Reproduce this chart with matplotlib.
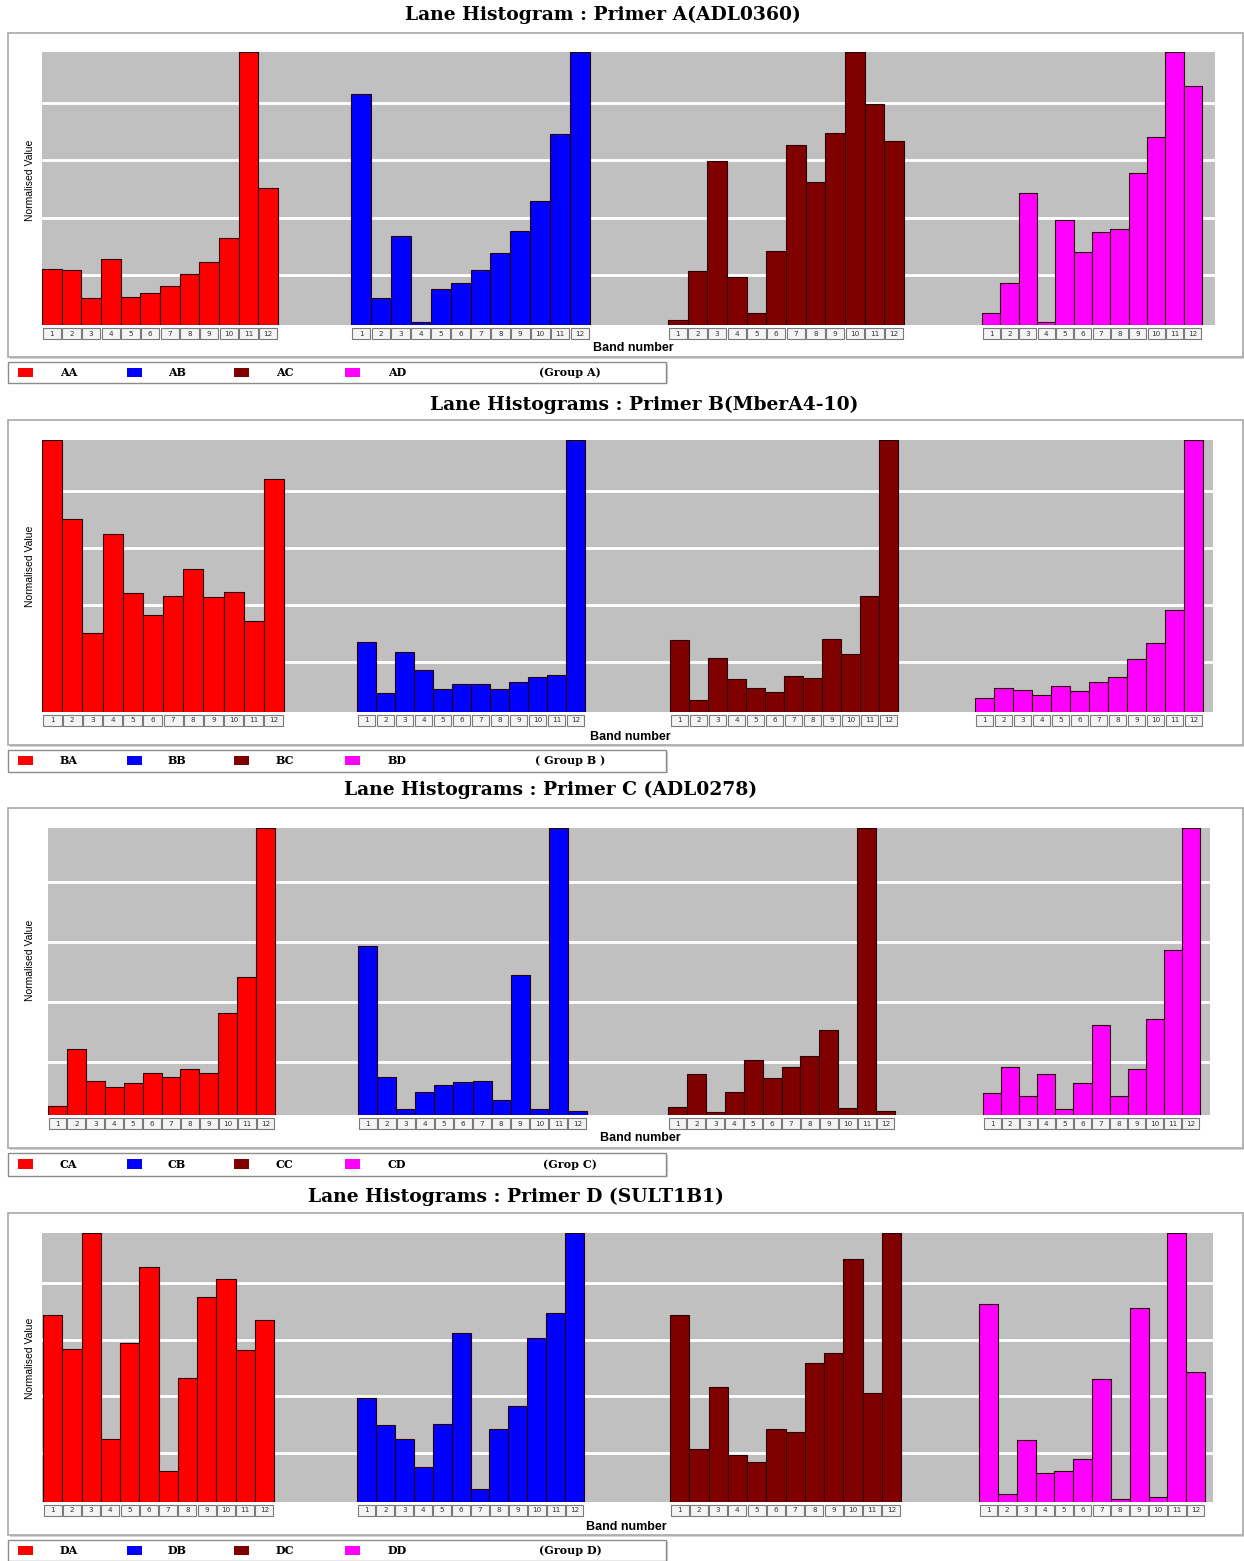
import matplotlib
matplotlib.use("Agg")
import matplotlib.pyplot as plt
from matplotlib.patches import Rectangle
import matplotlib.transforms as mtransforms

# ---------------- data (normalised values) ----------------
bands = ["1", "2", "3", "4", "5", "6", "7", "8", "9", "10", "11", "12"]

AA = [0.206, 0.201, 0.099, 0.243, 0.104, 0.116, 0.143, 0.186, 0.231, 0.320, 1.0, 0.502]
AB = [0.845, 0.100, 0.327, 0.012, 0.131, 0.153, 0.201, 0.263, 0.344, 0.454, 0.700, 1.0]
AC = [0.018, 0.198, 0.601, 0.177, 0.045, 0.272, 0.659, 0.525, 0.704, 1.0, 0.808, 0.675]
AD = [0.043, 0.153, 0.485, 0.011, 0.385, 0.268, 0.342, 0.352, 0.558, 0.690, 1.0, 0.875]

BA = [1.0, 0.710, 0.289, 0.653, 0.436, 0.356, 0.427, 0.525, 0.421, 0.443, 0.333, 0.855]
BB = [0.257, 0.070, 0.221, 0.155, 0.083, 0.102, 0.104, 0.086, 0.109, 0.128, 0.135, 1.0]
BC = [0.264, 0.045, 0.200, 0.120, 0.087, 0.073, 0.133, 0.124, 0.270, 0.214, 0.426, 1.0]
BD = [0.050, 0.087, 0.082, 0.062, 0.097, 0.079, 0.112, 0.128, 0.194, 0.252, 0.374, 1.0]

CA = [0.032, 0.230, 0.117, 0.099, 0.111, 0.145, 0.131, 0.161, 0.146, 0.356, 0.482, 1.0]
CB = [0.589, 0.134, 0.021, 0.079, 0.103, 0.114, 0.117, 0.053, 0.488, 0.020, 1.0, 0.014]
CC = [0.029, 0.144, 0.012, 0.079, 0.190, 0.128, 0.167, 0.204, 0.296, 0.026, 1.0, 0.014]
CD = [0.075, 0.166, 0.067, 0.142, 0.021, 0.111, 0.313, 0.067, 0.160, 0.335, 0.574, 1.0]

DA = [0.697, 0.570, 1.0, 0.233, 0.590, 0.874, 0.114, 0.462, 0.761, 0.828, 0.565, 0.677]
DB = [0.388, 0.288, 0.233, 0.130, 0.290, 0.630, 0.047, 0.271, 0.358, 0.610, 0.702, 1.0]
DC = [0.694, 0.198, 0.428, 0.173, 0.148, 0.272, 0.262, 0.516, 0.553, 0.904, 0.405, 1.0]
DD = [0.735, 0.028, 0.232, 0.107, 0.115, 0.160, 0.457, 0.012, 0.722, 0.019, 1.0, 0.485]

series_names = [["AA", "AB", "AC", "AD"], ["BA", "BB", "BC", "BD"],
                ["CA", "CB", "CC", "CD"], ["DA", "DB", "DC", "DD"]]
series_values = [[AA, AB, AC, AD], [BA, BB, BC, BD], [CA, CB, CC, CD], [DA, DB, DC, DD]]
titles = ["Lane Histogram : Primer A(ADL0360)",
          "Lane Histograms : Primer B(MberA4-10)",
          "Lane Histograms : Primer C (ADL0278)",
          "Lane Histograms : Primer D (SULT1B1)"]
group_labels = ["(Group A)", "( Group B )", "(Grop C)", "(Group D)"]
grid_levels = [0.183, 0.393, 0.603, 0.813]

# ---------------- layout (pixel coordinates of the 1244x1561 canvas) ----------------
W, H = 1244, 1561
colors = ["#ff0000", "#0000ff", "#800000", "#ff00ff"]

layout = [
    dict(title_xy=(603, 15), box=(8, 33, 1243, 357), gray=(42, 52, 1215, 325),
         groups=[(42, 278), (351, 590), (668, 904), (982, 1202)],
         band=(633, 348), ylab=(30, 180), legend=(8, 362, 666, 383)),
    dict(title_xy=(644, 405), box=(8, 420, 1243, 745), gray=(42, 440, 1213, 712),
         groups=[(42, 284), (357, 585), (670, 898), (975, 1203)],
         band=(630, 737), ylab=(30, 566), legend=(8, 750, 666, 772)),
    dict(title_xy=(551, 790), box=(8, 808, 1243, 1148), gray=(48, 828, 1210, 1115),
         groups=[(48, 275), (358, 587), (668, 895), (983, 1200)],
         band=(640, 1138), ylab=(30, 960), legend=(8, 1153, 666, 1176)),
    dict(title_xy=(516, 1197), box=(8, 1213, 1243, 1535), gray=(42, 1233, 1213, 1502),
         groups=[(43, 274), (357, 584), (670, 901), (979, 1205)],
         band=(626, 1527), ylab=(30, 1358), legend=(8, 1540, 666, 1561)),
]

fig = plt.figure(figsize=(W / 100, H / 100), dpi=100)
fig.patch.set_facecolor("white")


def fx(x):
    return x / W


def fy(y):
    return 1 - y / H


def fig_rect(x0, y0, x1, y1, **kw):
    r = Rectangle((fx(x0), fy(y1)), fx(x1) - fx(x0), fy(y0) - fy(y1),
                  transform=fig.transFigure, **kw)
    fig.add_artist(r)
    return r


legend_sq_x = [18, 127, 234, 345]
legend_lab_x = [60, 168, 276, 388]

for p, lay in enumerate(layout):
    # title
    fig.text(fx(lay["title_xy"][0]), fy(lay["title_xy"][1]), titles[p],
             ha="center", va="center", fontsize=13.5, fontweight="bold",
             family="DejaVu Serif", zorder=3)
    # outer box with slight shadow
    bx0, by0, bx1, by1 = lay["box"]
    fig_rect(bx0 + 2, by0 + 2, bx1 + 1, by1 + 2, facecolor="#d4d4d4", edgecolor="none", zorder=-2)
    fig_rect(bx0, by0, bx1, by1, facecolor="white", edgecolor="#a8a8a8", lw=1.2, zorder=-1)

    gx0, gy0, gx1, gy1 = lay["gray"]
    ax = fig.add_axes([fx(gx0), fy(gy1), fx(gx1) - fx(gx0), fy(gy0) - fy(gy1)])
    ax.set_zorder(2)
    ax.set_facecolor("#c0c0c0")
    ax.set_xlim(gx0, gx1)
    ax.set_ylim(0, 1)
    for s in ax.spines.values():
        s.set_visible(False)
    ax.set_xticks([])
    ax.set_yticks(grid_levels)
    ax.set_yticklabels([])
    ax.tick_params(axis="y", length=0)
    ax.grid(axis="y", color="white", lw=2.0)
    ax.set_axisbelow(True)

    trans = mtransforms.blended_transform_factory(ax.transData, ax.transAxes)
    ax_h = gy1 - gy0
    for g, (s0, s1) in enumerate(lay["groups"]):
        w = (s1 - s0) / len(bands)
        xs = [s0 + i * w for i in range(len(bands))]
        ax.bar(xs, series_values[p][g], width=w, align="edge", color=colors[g],
               edgecolor="#2a0000", linewidth=0.8, zorder=3)
        # strip of small numbered boxes below the bars
        for i, lab in enumerate(bands):
            r = Rectangle((xs[i] + 0.03 * w, -14 / ax_h), w * 0.94, 11 / ax_h, transform=trans,
                          facecolor="#f4f4f4", edgecolor="#7a7a7a", lw=0.8, clip_on=False)
            ax.add_patch(r)
            ax.text(xs[i] + w / 2, -8.5 / ax_h, lab, transform=trans, ha="center",
                    va="center", fontsize=5.2, color="#333333", clip_on=False)

    # axis labels
    fig.text(fx(lay["band"][0]), fy(lay["band"][1]), "Band number", ha="center",
             va="center", fontsize=9, fontweight="bold", family="Liberation Sans", zorder=3)
    fig.text(fx(lay["ylab"][0]), fy(lay["ylab"][1]), "Normalised Value", ha="center",
             va="center", rotation=90, fontsize=7.5, family="Liberation Sans", zorder=3)

    # legend box
    lx0, ly0, lx1, ly1 = lay["legend"]
    fig_rect(lx0 + 2, ly0 + 2, lx1 + 2, ly1 + 1, facecolor="#cfcfcf", edgecolor="none", zorder=-2)
    fig_rect(lx0, ly0, lx1, ly1, facecolor="white", edgecolor="#8c8c8c", lw=1.0, zorder=-1)
    ymid = (ly0 + ly1) / 2
    for g in range(4):
        sx = legend_sq_x[g]
        fig_rect(sx, ymid - 5, sx + 15, ymid + 4, facecolor=colors[g], edgecolor="none", zorder=1)
        fig.text(fx(legend_lab_x[g]), fy(ymid), series_names[p][g], ha="left", va="center",
                 fontsize=8, fontweight="bold", family="DejaVu Serif", zorder=3)
    fig.text(fx(570), fy(ymid), group_labels[p], ha="center", va="center",
             fontsize=8, fontweight="bold", family="DejaVu Serif", zorder=3)

fig.savefig("out.png", dpi=100, facecolor="white")
